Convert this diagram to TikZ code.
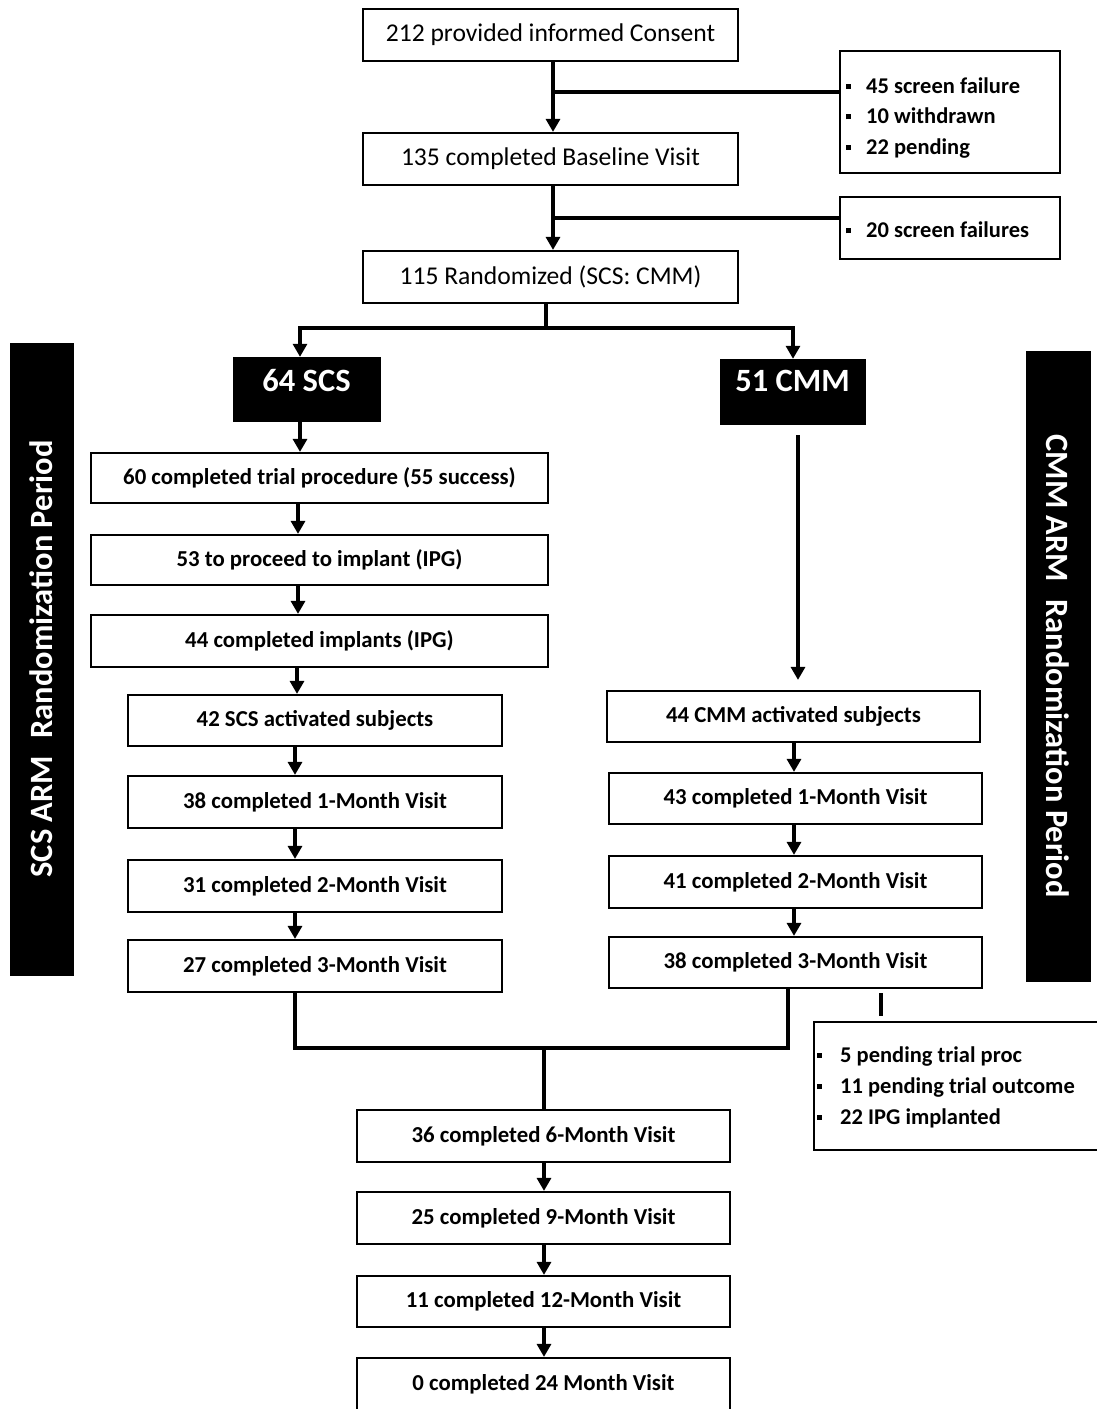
\documentclass[tikz,border=0pt]{standalone}
\usepackage{fontspec}
\setmainfont{Carlito}
\usetikzlibrary{arrows.meta}
\newcommand\sqbul[1]{\rule[0.2em]{5pt}{5pt}\hspace{#1}}
\begin{document}
\begin{tikzpicture}[x=1pt,y=-1pt,
  box/.style={draw, line width=2.2pt, inner sep=0pt, font=\fontsize{25.6}{30}\selectfont},
  bbox/.style={box, font=\fontsize{22.8}{26}\selectfont\bfseries},
  blk/.style={fill=black, draw=black, inner sep=0pt},
  blktxt/.style={text=white, font=\fontsize{32.5}{36}\selectfont\bfseries, inner sep=0pt},
  sidebox/.style={draw, line width=2pt, inner sep=0pt},
  sidetxt/.style={align=flush left, inner sep=0pt, font=\fontsize{22.5}{30.5}\selectfont\bfseries},
  conn/.style={line width=3.1pt, -{Triangle[width=14pt,length=13pt]}},
  ln/.style={line width=3.1pt}
]
\useasboundingbox (0,0) rectangle (1097,1409);
% top column
\node[box, minimum width=375pt, minimum height=52pt] (A) at (550.5,35) {212 provided informed Consent};
\node[box, minimum width=375pt, minimum height=52pt] (B) at (550.5,159) {135 completed Baseline Visit};
\node[box, minimum width=375pt, minimum height=52pt] (C) at (550.5,277) {115 Randomized (SCS: CMM)};
% side boxes
\node[sidebox, minimum width=220pt, minimum height=122pt] (S1) at (950,112) {};
\node[sidetxt, anchor=west] (S1t) at (846,118)
  {\sqbul{15pt}45 screen failure\\\sqbul{15pt}10 withdrawn\\\sqbul{15pt}22 pending};
\node[sidebox, minimum width=220pt, minimum height=62pt] (S2) at (950,228) {};
\node[sidetxt, anchor=west] (S2t) at (846,230) {\sqbul{15pt}20 screen failures};
% arm boxes
\node[blk, minimum width=147pt, minimum height=64pt] (SCS) at (306.5,389) {};
\node[blktxt] (SCSt) at ([yshift=-24pt]SCS.north) {64 SCS};
\node[blk, minimum width=145pt, minimum height=65pt] (CMM) at (792.5,391.5) {};
\node[blktxt] (CMMt) at ([yshift=-22pt]CMM.north) {51 CMM};
% bars
\node[blk, minimum width=63pt, minimum height=632pt] (barL) at (41.5,659) {};
\node[blktxt, rotate=90] (barLt) at (barL) {SCS ARM\hspace{0.3em} Randomization Period};
\node[blk, minimum width=64pt, minimum height=630pt] (barR) at (1058,666) {};
\node[blktxt, rotate=-90] (barRt) at (barR) {CMM ARM\hspace{0.3em} Randomization Period};
% left column
\node[bbox, minimum width=457pt, minimum height=50pt] (L1) at (319.5,478) {60 completed trial procedure (55 success)};
\node[bbox, minimum width=457pt, minimum height=50pt] (L2) at (319.5,560) {53 to proceed to implant (IPG)};
\node[bbox, minimum width=457pt, minimum height=52pt] (L3) at (319.5,641) {44 completed implants (IPG)};
\node[bbox, minimum width=374pt, minimum height=51pt] (L4) at (315,720.5) {42 SCS activated subjects};
\node[bbox, minimum width=374pt, minimum height=52pt] (L5) at (315,802) {38 completed 1-Month Visit};
\node[bbox, minimum width=374pt, minimum height=52pt] (L6) at (315,886) {31 completed 2-Month Visit};
\node[bbox, minimum width=374pt, minimum height=52pt] (L7) at (315,966) {27 completed 3-Month Visit};
% right column
\node[bbox, minimum width=373pt, minimum height=51pt] (R1) at (793.5,716.5) {44 CMM activated subjects};
\node[bbox, minimum width=373pt, minimum height=51pt] (R2) at (795.5,798.5) {43 completed 1-Month Visit};
\node[bbox, minimum width=373pt, minimum height=52pt] (R3) at (795.5,882) {41 completed 2-Month Visit};
\node[bbox, minimum width=373pt, minimum height=51pt] (R4) at (795.5,962.5) {38 completed 3-Month Visit};
\node[sidebox, minimum width=285pt, minimum height=128pt] (S3) at (956.5,1086) {};
\node[sidetxt, anchor=west, font=\fontsize{22.5}{31}\selectfont\bfseries] (S3t) at (817,1087)
  {\sqbul{18pt}5 pending trial proc\\\sqbul{18pt}11 pending trial outcome\\\sqbul{18pt}22 IPG implanted};
% merged column
\node[bbox, minimum width=373pt, minimum height=52pt] (M1) at (543.5,1136) {36 completed 6-Month Visit};
\node[bbox, minimum width=373pt, minimum height=52pt] (M2) at (543.5,1218) {25 completed 9-Month Visit};
\node[bbox, minimum width=373pt, minimum height=51pt] (M3) at (543.5,1301.5) {11 completed 12-Month Visit};
\node[bbox, minimum width=373pt, minimum height=52pt] (M4) at (543.5,1384) {0 completed 24 Month Visit};
% connectors top
\draw[conn] (A.south -| 553,0) -- (B.north -| 553,0);
\coordinate (j1) at (553,92);
\draw[ln] (j1) -- (j1 -| S1.west);
\draw[conn] (B.south -| 553,0) -- (C.north -| 553,0);
\coordinate (j2) at (553,218);
\draw[ln] (j2) -- (j2 -| S2.west);
\coordinate (sp) at (546,328);
\draw[ln] (C.south -| sp) -- (sp);
\draw[conn] (sp) -| (SCS.north -| 300,0);
\draw[conn] (sp) -| (CMM.north -| 793,0);
% left chain
\draw[conn] (SCS.south -| 300,0) -- (L1.north -| 300,0);
\draw[conn] (L1.south -| 298,0) -- (L2.north -| 298,0);
\draw[conn] (L2.south -| 298,0) -- (L3.north -| 298,0);
\draw[conn] (L3.south -| 297,0) -- (L4.north -| 297,0);
\draw[conn] (L4.south -| 295,0) -- (L5.north -| 295,0);
\draw[conn] (L5.south -| 295,0) -- (L6.north -| 295,0);
\draw[conn] (L6.south -| 295,0) -- (L7.north -| 295,0);
% right chain
\draw[conn, shorten <=11pt, shorten >=10pt] (CMM.south -| 798,0) -- (R1.north -| 798,0);
\draw[conn] (R1.south -| 794,0) -- (R2.north -| 794,0);
\draw[conn] (R2.south -| 794,0) -- (R3.north -| 794,0);
\draw[conn] (R3.south -| 794,0) -- (R4.north -| 794,0);
\draw[ln, shorten <=4pt, shorten >=5pt] (R4.south -| 881,0) -- (S3.north -| 881,0);
% merge
\coordinate (mg) at (544,1048);
\draw[ln] (L7.south -| 295,0) |- (mg) -| (R4.south -| 788,0);
\draw[ln] (mg) -- (M1.north -| mg);
\draw[conn] (M1.south -| 544,0) -- (M2.north -| 544,0);
\draw[conn] (M2.south -| 544,0) -- (M3.north -| 544,0);
\draw[conn] (M3.south -| 544,0) -- (M4.north -| 544,0);
\end{tikzpicture}
\end{document}
